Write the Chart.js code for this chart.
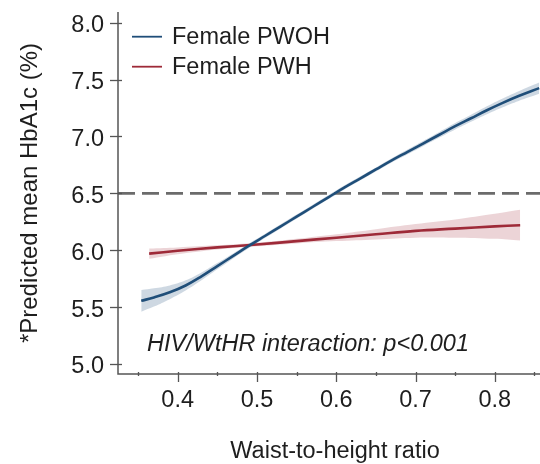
<!DOCTYPE html>
<html>
<head>
<meta charset="utf-8">
<script src="https://cdn.jsdelivr.net/npm/chart.js@4/dist/chart.umd.min.js"></script>
<style>
  html, body { margin: 0; padding: 0; background: #ffffff; }
  #wrap { width: 540px; height: 464px; position: relative; }
</style>
</head>
<body>
<div id="wrap"><canvas id="c" width="540" height="464"></canvas></div>
<script>
// ---- Data ----
const pwohX     = [0.354, 0.37, 0.39, 0.41, 0.43, 0.45, 0.47, 0.49, 0.51, 0.53, 0.55, 0.57, 0.59, 0.61, 0.63, 0.65, 0.67, 0.69, 0.71, 0.73, 0.75, 0.77, 0.79, 0.81, 0.83, 0.856];
const pwohMean  = [5.555, 5.585, 5.63, 5.69, 5.77, 5.86, 5.95, 6.04, 6.125, 6.21, 6.295, 6.38, 6.465, 6.55, 6.63, 6.71, 6.79, 6.865, 6.94, 7.015, 7.09, 7.16, 7.23, 7.295, 7.355, 7.425];
const pwohLower = [5.46, 5.505, 5.57, 5.645, 5.735, 5.832, 5.928, 6.02, 6.107, 6.192, 6.277, 6.362, 6.447, 6.532, 6.612, 6.692, 6.771, 6.844, 6.917, 6.99, 7.062, 7.129, 7.195, 7.256, 7.312, 7.375];
const pwohUpper = [5.65, 5.665, 5.69, 5.735, 5.805, 5.888, 5.972, 6.06, 6.143, 6.228, 6.313, 6.398, 6.483, 6.568, 6.648, 6.728, 6.809, 6.886, 6.963, 7.04, 7.118, 7.191, 7.265, 7.334, 7.398, 7.475];

const pwhX      = [0.364, 0.40, 0.45, 0.50, 0.55, 0.60, 0.65, 0.70, 0.75, 0.80, 0.832];
const pwhMean   = [5.97, 5.995, 6.025, 6.05, 6.08, 6.11, 6.14, 6.17, 6.19, 6.21, 6.22];
const pwhLower  = [5.925, 5.965, 6.007, 6.035, 6.06, 6.08, 6.095, 6.11, 6.11, 6.10, 6.085];
const pwhUpper  = [6.015, 6.025, 6.043, 6.065, 6.10, 6.14, 6.185, 6.23, 6.27, 6.32, 6.355];

const seriesLabels = ["Female PWOH", "Female PWH"];
const refLineY     = [6.5];
const xTickValues  = [0.4, 0.5, 0.6, 0.7, 0.8];
const xMinorValues = [0.35, 0.45, 0.55, 0.65, 0.75, 0.85];
const yTickValues  = [5.0, 5.5, 6.0, 6.5, 7.0, 7.5, 8.0];
const axisRange    = { xMin: 0.3247, xMax: 0.857, yMin: 4.912, yMax: 8.094 };
const annotationText = "HIV/WtHR interaction: p<0.001";
const xTitle = "Waist-to-height ratio";
const yTitle = "*Predicted mean HbA1c (%)";

// ---- Styling ----
const BLUE = "#1f4e79";
const RED = "#9e2a38";
const BLUE_BAND = "rgba(31,78,121,0.22)";
const RED_BAND = "rgba(158,42,56,0.20)";
const FONT = "'Liberation Sans', Arial, Helvetica, sans-serif";
const FS = 23.5;
const TXT = "#1e1e1e";
const AXIS = "#555555";

const pts = (xs, ys) => xs.map((x, i) => ({ x: x, y: ys[i] }));

const datasets = [
  { label: seriesLabels[0], data: pts(pwohX, pwohMean), borderColor: BLUE, borderWidth: 2.6, pointRadius: 0, fill: false, tension: 0.4, order: 0 },
  { label: seriesLabels[1], data: pts(pwhX, pwhMean), borderColor: RED, borderWidth: 2.6, pointRadius: 0, fill: false, tension: 0.4, order: 0 },
  { label: "pwohLower", data: pts(pwohX, pwohLower), borderWidth: 0, borderColor: "rgba(0,0,0,0)", pointRadius: 0, fill: false, tension: 0.4, order: 2 },
  { label: "pwohUpper", data: pts(pwohX, pwohUpper), borderWidth: 0, borderColor: "rgba(0,0,0,0)", backgroundColor: BLUE_BAND, pointRadius: 0, fill: '-1', tension: 0.4, order: 2 },
  { label: "pwhLower", data: pts(pwhX, pwhLower), borderWidth: 0, borderColor: "rgba(0,0,0,0)", pointRadius: 0, fill: false, tension: 0.4, order: 2 },
  { label: "pwhUpper", data: pts(pwhX, pwhUpper), borderWidth: 0, borderColor: "rgba(0,0,0,0)", backgroundColor: RED_BAND, pointRadius: 0, fill: '-1', tension: 0.4, order: 2 },
  { label: "ref", data: [{ x: axisRange.xMin, y: refLineY[0] }, { x: axisRange.xMax, y: refLineY[0] }], borderColor: "#6b6b6b", borderWidth: 2.6, borderDash: [17, 7], pointRadius: 0, fill: false, order: 1 }
];

const customDraw = {
  id: 'customDraw',
  afterDraw(chart) {
    const ctx = chart.ctx;
    const xs = chart.scales.x, ys = chart.scales.y;
    const ca = chart.chartArea;
    ctx.save();
    ctx.strokeStyle = AXIS;
    ctx.lineWidth = 1.5;
    ctx.beginPath();
    ctx.moveTo(ca.left, ca.top);
    ctx.lineTo(ca.left, ca.bottom);
    ctx.lineTo(ca.right, ca.bottom);
    ctx.stroke();
    ctx.lineWidth = 1.3;
    yTickValues.forEach(v => {
      const py = Math.round(ys.getPixelForValue(v)) + 0.5;
      ctx.beginPath(); ctx.moveTo(ca.left - 8, py); ctx.lineTo(ca.left + 4, py); ctx.stroke();
    });
    xTickValues.forEach(v => {
      const px = Math.round(xs.getPixelForValue(v)) + 0.5;
      ctx.beginPath(); ctx.moveTo(px, ca.bottom - 2); ctx.lineTo(px, ca.bottom + 8); ctx.stroke();
    });
    xMinorValues.forEach(v => {
      const px = Math.round(xs.getPixelForValue(v)) + 0.5;
      ctx.beginPath(); ctx.moveTo(px, ca.bottom - 2); ctx.lineTo(px, ca.bottom + 2); ctx.stroke();
    });
    ctx.font = FS + "px " + FONT;
    ctx.textBaseline = 'middle';
    ctx.textAlign = 'left';
    const legendItems = [[seriesLabels[0], BLUE, 36.7], [seriesLabels[1], RED, 66.7]];
    legendItems.forEach(([t, c, y]) => {
      ctx.strokeStyle = c; ctx.lineWidth = 1.8;
      ctx.beginPath(); ctx.moveTo(132, y); ctx.lineTo(162, y); ctx.stroke();
      ctx.fillStyle = TXT;
      ctx.fillText(t, 172, y + 1);
    });
    // x-axis title
    ctx.textAlign = 'center';
    ctx.fillText(xTitle, 335, 452);
    // annotation
    ctx.textAlign = 'left';
    ctx.font = "italic " + FS + "px " + FONT;
    ctx.fillText(annotationText, 147, 344);
    ctx.restore();
  }
};

new Chart(document.getElementById('c'), {
  type: 'line',
  data: { datasets: datasets },
  options: {
    responsive: false,
    animation: false,
    events: [],
    layout: { padding: { top: 12, right: 0, left: 0, bottom: 0 } },
    plugins: { legend: { display: false }, tooltip: { enabled: false } },
    scales: {
      x: {
        type: 'linear',
        min: axisRange.xMin, max: axisRange.xMax,
        afterFit(s) { s.height = 90; s.paddingLeft = 0; s.paddingRight = 0; },
        afterBuildTicks(s) { s.ticks = xTickValues.map(v => ({ value: v })); },
        border: { display: false },
        grid: { display: false, drawTicks: false },
        ticks: { color: TXT, font: { family: FONT, size: FS }, padding: 12, maxRotation: 0, callback: v => v.toFixed(1) },
        title: { display: false }
      },
      y: {
        type: 'linear',
        min: axisRange.yMin, max: axisRange.yMax,
        afterFit(s) { s.width = 118; s.paddingTop = 0; s.paddingBottom = 0; },
        afterBuildTicks(s) { s.ticks = yTickValues.map(v => ({ value: v })); },
        border: { display: false },
        grid: { display: false, drawTicks: false },
        ticks: { color: TXT, font: { family: FONT, size: FS }, padding: 14, labelOffset: 3, callback: v => v.toFixed(1) },
        title: { display: true, text: yTitle, color: TXT, font: { family: FONT, size: 24 }, padding: { top: 16, bottom: 0 } }
      }
    }
  },
  plugins: [customDraw]
});
</script>
</body>
</html>
